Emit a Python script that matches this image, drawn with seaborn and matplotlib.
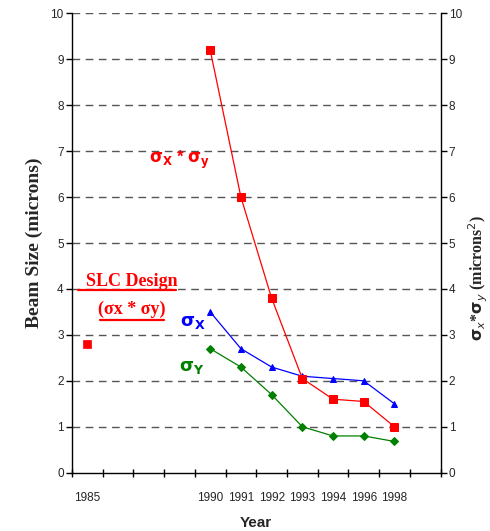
import matplotlib
matplotlib.use("Agg")
import matplotlib.pyplot as plt
import seaborn as sns
import pandas as pd

# category slots along the x axis (blank slots are spacing)
categories = ["1985", "", "", "", "1990", "1991", "1992", "1993", "1994", "1996", "1998", ""]
years = ["1990", "1991", "1992", "1993", "1994", "1996", "1998"]
sigma_xy = [9.2, 6.0, 3.8, 2.05, 1.6, 1.55, 1.0]
sigma_x = [3.5, 2.7, 2.3, 2.1, 2.05, 2.0, 1.5]
sigma_y = [2.7, 2.3, 1.7, 1.0, 0.8, 0.8, 0.68]
design_year = ["1985"]
design_value = [2.8]

pos = {c: i + 0.5 for i, c in enumerate(categories) if c}
df = pd.DataFrame({
    "x": [pos[y] for y in years],
    "sxy": sigma_xy,
    "sx": sigma_x,
    "sy": sigma_y,
})

sns.set_style("white")
plt.rcParams["font.family"] = ["Liberation Sans", "DejaVu Sans"]

fig = plt.figure(figsize=(4.9, 5.31), dpi=100)
ax = fig.add_axes([0.147, 0.1098, 0.752, 0.865])

for yv in range(1, 11):
    ax.axhline(yv, color="#555555", lw=1.0, ls=(0, (5.5, 4)), zorder=0)

sns.lineplot(data=df, x="x", y="sy", ax=ax, color="green", lw=0.9,
             marker="D", markersize=4, markeredgecolor="green")
sns.lineplot(data=df, x="x", y="sx", ax=ax, color="blue", lw=0.9,
             marker="^", markersize=5, markeredgecolor="blue")
sns.lineplot(data=df, x="x", y="sxy", ax=ax, color="red", lw=0.9,
             marker="s", markersize=6, markeredgecolor="red")
sns.scatterplot(x=[pos[y] for y in design_year], y=design_value, ax=ax,
                color="red", marker="s", s=40, edgecolor="red")

ax.set_xlim(0, 12)
ax.set_ylim(0, 10)
ax.set_xticks(range(13))
ax.set_xticklabels([])
ax.set_xticks([i + 0.5 for i in range(12)], minor=True)
ax.set_xticklabels(categories, minor=True, fontsize=8.5)
ax.tick_params(axis="x", which="major", direction="inout", length=6, width=1, color="black")
ax.tick_params(axis="x", which="minor", length=0, pad=14)
ax.set_yticks(range(11))
ax.tick_params(axis="y", direction="out", length=4, width=1, color="black", labelsize=8.5, pad=2)
ax.yaxis.set_ticks_position("left")
ax.xaxis.set_ticks_position("bottom")

for s in ["top", "right"]:
    ax.spines[s].set_visible(False)
for s in ["left", "bottom"]:
    ax.spines[s].set_color("black")
    ax.spines[s].set_linewidth(1)

ax2 = ax.twinx()
ax2.set_ylim(0, 10)
ax2.set_yticks(range(11))
ax2.tick_params(axis="y", direction="out", length=4, width=1, color="black", labelsize=8.5, pad=2)
for s in ["top", "left", "bottom"]:
    ax2.spines[s].set_visible(False)
ax2.spines["right"].set_color("black")
ax2.spines["right"].set_linewidth(1)

ax.set_xlabel("Year", fontsize=11, fontweight="bold")
ax.xaxis.set_label_coords(0.5, -0.095)
ax.set_ylabel("Beam Size (microns)", fontsize=14, fontweight="bold",
              family="Liberation Serif")
ax.yaxis.set_label_coords(-0.08, 0.5)
ax2.set_ylabel(r"$\mathbf{\sigma}_{x}$*$\mathbf{\sigma}_{y}$ (microns$^{2}$)", fontsize=11.5,
               fontweight="bold", family="Liberation Serif")
ax2.yaxis.set_label_coords(1.07, 0.424)

ax.text(3.5, 6.8, r"$\mathbf{\sigma_{X}}$ * $\mathbf{\sigma_{y}}$", color="red",
        fontsize=12, fontweight="bold", ha="center", va="center")
ax.text(1.95, 4.07, "SLC Design", color="red", fontsize=13, fontweight="bold",
        family="Liberation Serif", ha="center", va="baseline")
ax.text(1.95, 3.56, "(σx * σy)", color="red", fontsize=13, fontweight="bold",
        family="Liberation Serif", ha="center", va="center")
ax.plot([0.2, 3.4], [3.98, 3.98], color="red", lw=1.6)
ax.plot([0.9, 3.0], [3.32, 3.32], color="red", lw=1.6)
ax.text(3.95, 3.28, r"$\mathbf{\sigma_{X}}$", color="blue", fontsize=13,
        ha="center", va="center")
ax.text(3.9, 2.28, r"$\mathbf{\sigma_{Y}}$", color="green", fontsize=13,
        ha="center", va="center")

fig.savefig("out.png", dpi=100)
